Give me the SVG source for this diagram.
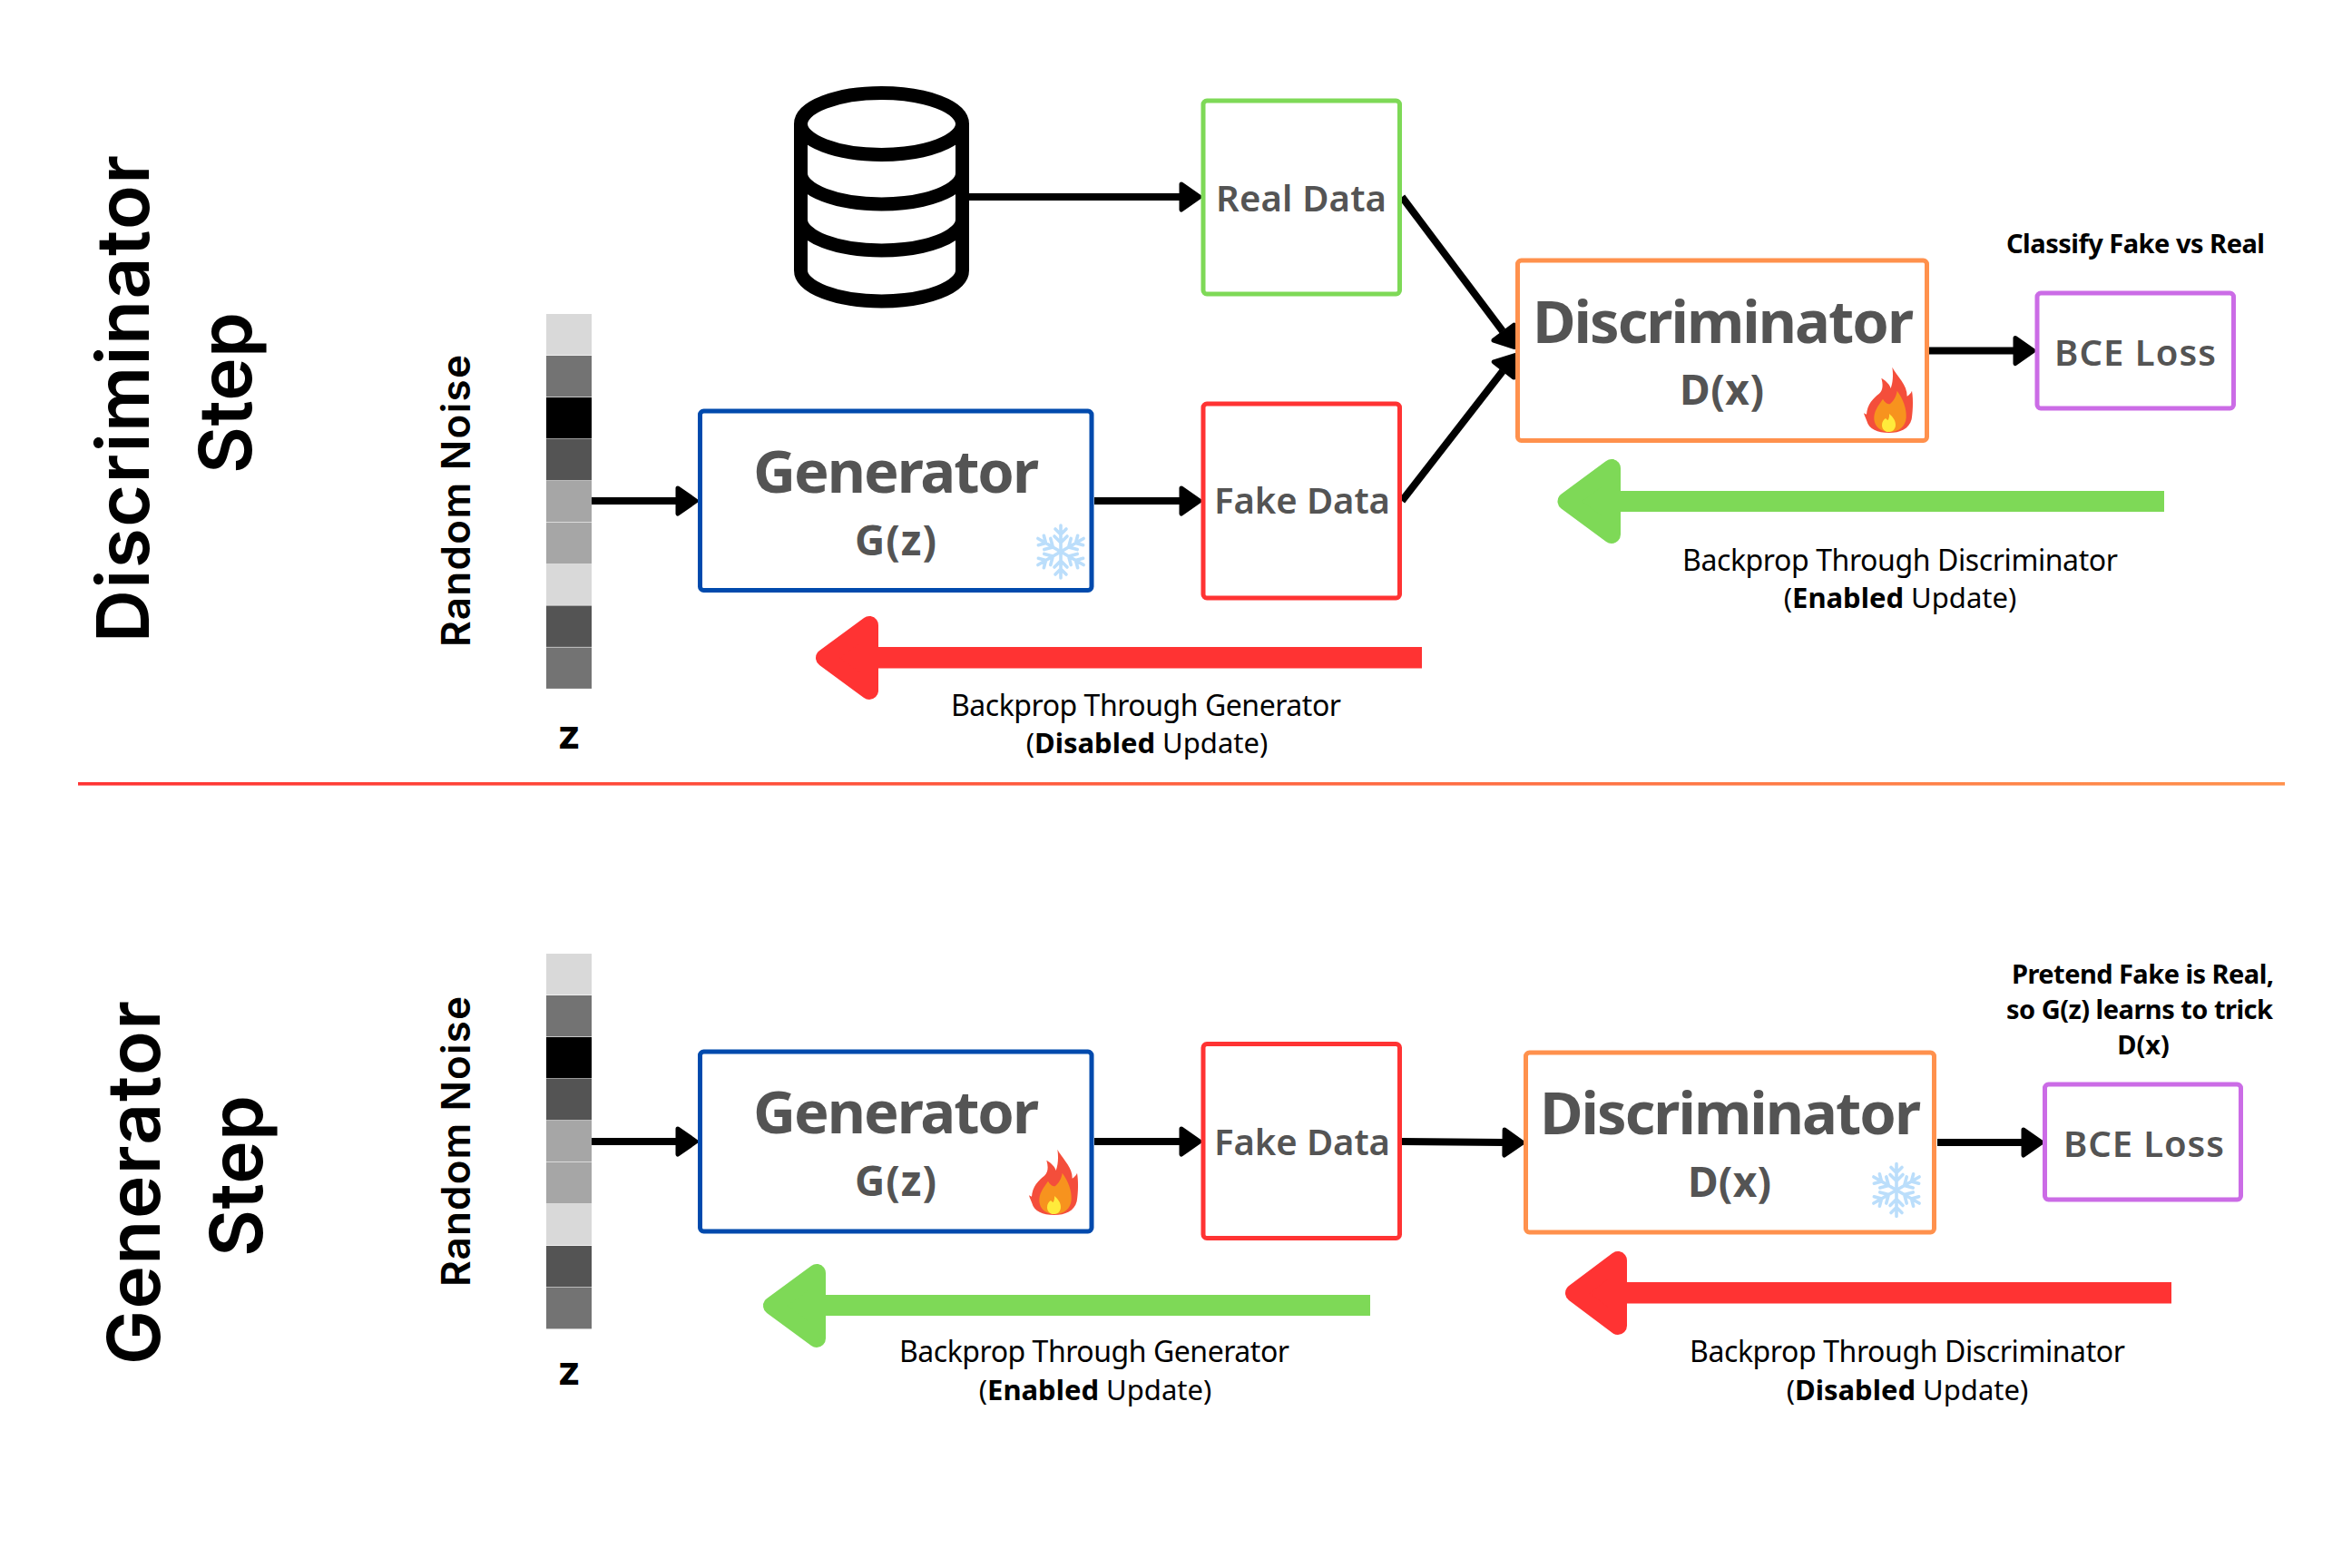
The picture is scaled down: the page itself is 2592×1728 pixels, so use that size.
<svg xmlns="http://www.w3.org/2000/svg" width="2592" height="1728" viewBox="0 0 2592 1728">
<style>
text{font-family:"Noto Sans","Open Sans",sans-serif;fill:#000}
.title{font-family:Inter,"Liberation Sans",sans-serif;font-weight:600;font-size:80px}
.rn{font-family:Inter,"Liberation Sans",sans-serif;font-weight:600;font-size:44px}
.z{font-family:Inter,"Liberation Sans",sans-serif;font-weight:700;font-size:44px}
.big{font-size:65px;font-weight:700;fill:#545454}
.sub{font-size:46px;font-weight:700;fill:#545454}
.lab{font-size:40px;font-weight:600;fill:#545454}
.note{font-size:29px;font-weight:700}
.bp{font-size:32px;font-weight:400}
.bp2{font-size:31px;font-weight:400}
.bp2 tspan{font-weight:700}
.box{fill:#fff;stroke-width:5}
.blue{stroke:#004aad}.red{stroke:#ff3333}.green{stroke:#7ed957}.orange{stroke:#ff914d}.purple{stroke:#cb6ce6}
.link{stroke:#000;stroke-width:8;fill:none;marker-end:url(#tip)}
.db{fill:none;stroke:#000;stroke-width:15}
.ag{fill:#7ed957;stroke:#7ed957}.ar{fill:#ff3333;stroke:#ff3333}
.ahead{stroke-width:20;stroke-linejoin:round}
.flake{stroke:#bbdefb;stroke-width:3.6;fill:none;stroke-linecap:round}
</style>
<defs>
<marker id="tip" markerUnits="userSpaceOnUse" markerWidth="40" markerHeight="44" refX="2" refY="22" orient="auto" viewBox="0 0 40 44"><path d="M4 8 L24 22 L4 36 Z" fill="#000" stroke="#000" stroke-width="5" stroke-linejoin="round"/></marker>
<linearGradient id="sep" x1="0" x2="1" y1="0" y2="0"><stop offset="0" stop-color="#ff3333"/><stop offset="1" stop-color="#ff914d"/></linearGradient>
<g id="arm"><path d="M0 0V-29M0 -10L-7 -17M0 -10L7 -17M0 -19L-6 -25M0 -19L6 -25"/></g>
<g id="flake" class="flake"><use href="#arm"/><use href="#arm" transform="rotate(60)"/><use href="#arm" transform="rotate(120)"/><use href="#arm" transform="rotate(180)"/><use href="#arm" transform="rotate(240)"/><use href="#arm" transform="rotate(300)"/></g>
<g id="fire" transform="scale(.3333)">
<path fill="#f44e3b" d="M136 14C152 45 186 72 185 110C191 106 198 100 201 92C207 125 203 170 200 186C192 218 162 231 125 231C88 231 58 218 52 192C48 182 44 174 42 166L51 170C53 138 73 116 93 101C106 90 106 70 100 50C117 60 128 72 131 84C138 65 140 40 136 14Z"/>
<path fill="#f7931e" d="M152 92C172 120 184 150 182 181C180 212 156 228 128 228C99 228 78 212 76 186C75 160 88 143 105 119C110 128 118 136 128 136C140 126 150 110 152 92Z"/>
<path fill="#ffeb3b" d="M126 168C139 179 148 192 147 206C146 220 136 228 124 228C111 228 102 217 102 206C102 195 107 187 114 183C118 187 120 189 122 189C125 184 127 176 126 168Z"/>
</g>
</defs>
<rect width="2592" height="1728" fill="#fff"/>

<g id="titles">
<text class="title" transform="translate(164 708) rotate(-90)" textLength="537">Discriminator</text>
<text class="title" transform="translate(277 522) rotate(-90)" textLength="178">Step</text>
<text class="title" transform="translate(176 1504) rotate(-90)" textLength="401">Generator</text>
<text class="title" transform="translate(289 1385) rotate(-90)" textLength="178">Step</text>
</g>

<rect id="separator" x="86" y="862" width="2432" height="3.6" fill="url(#sep)"/>

<g id="connectors">
<line class="link" x1="1068" y1="217" x2="1300" y2="217"/>
<line class="link" x1="1545" y1="217" x2="1656" y2="365"/>
<line class="link" x1="1545" y1="552" x2="1656" y2="409"/>
<line class="link" x1="652" y1="552" x2="745" y2="552"/>
<line class="link" x1="1206" y1="552" x2="1300" y2="552"/>
<line class="link" x1="2126" y1="386.5" x2="2219" y2="386.5"/>
<line class="link" x1="652" y1="1258" x2="745" y2="1258"/>
<line class="link" x1="1206" y1="1258" x2="1300" y2="1258"/>
<line class="link" x1="1545" y1="1258" x2="1656" y2="1259"/>
<line class="link" x1="2135" y1="1259" x2="2228" y2="1259"/>
</g>

<g id="feedback-arrows">
<g id="back-d-enabled" class="ag"><rect x="1780" y="541" width="605" height="23" stroke="none"/><path class="ahead" d="M1726.5 552.5L1776 516V589Z"/></g>
<g id="back-g-disabled" class="ar"><rect x="960" y="713" width="607" height="23.5" stroke="none"/><path class="ahead" d="M909 725L958 689V761Z"/></g>
<g id="back-g-enabled" class="ag"><rect x="905" y="1427" width="605" height="23" stroke="none"/><path class="ahead" d="M851 1439L900 1403V1475Z"/></g>
<g id="back-d-disabled" class="ar"><rect x="1785" y="1413" width="608" height="23.5" stroke="none"/><path class="ahead" d="M1735 1425L1783 1389V1461Z"/></g>
</g>

<g id="noise-top">
<rect x="602" y="346" width="50" height="45.4" fill="#d9d9d9"/><rect x="602" y="392" width="50" height="45.4" fill="#737373"/><rect x="602" y="438" width="50" height="45.4" fill="#000"/><rect x="602" y="484" width="50" height="45.4" fill="#545454"/><rect x="602" y="530" width="50" height="45.4" fill="#a6a6a6"/><rect x="602" y="576" width="50" height="45.4" fill="#a6a6a6"/><rect x="602" y="621.5" width="50" height="45.4" fill="#d9d9d9"/><rect x="602" y="667.5" width="50" height="45.4" fill="#545454"/><rect x="602" y="713.5" width="50" height="45.4" fill="#737373"/>
<text class="rn" transform="translate(518 713) rotate(-90)" textLength="322">Random Noise</text>
<text class="z" x="627" y="825" text-anchor="middle">z</text>
</g>

<g id="noise-bottom">
<rect x="602" y="1051" width="50" height="45.4" fill="#d9d9d9"/><rect x="602" y="1097" width="50" height="45.4" fill="#737373"/><rect x="602" y="1143" width="50" height="45.4" fill="#000"/><rect x="602" y="1189" width="50" height="45.4" fill="#545454"/><rect x="602" y="1235" width="50" height="45.4" fill="#a6a6a6"/><rect x="602" y="1281" width="50" height="45.4" fill="#a6a6a6"/><rect x="602" y="1327" width="50" height="45.4" fill="#d9d9d9"/><rect x="602" y="1373" width="50" height="45.4" fill="#545454"/><rect x="602" y="1419" width="50" height="45.4" fill="#737373"/>
<text class="rn" transform="translate(518 1418) rotate(-90)" textLength="320">Random Noise</text>
<text class="z" x="627" y="1526" text-anchor="middle">z</text>
</g>

<g id="database">
<ellipse class="db" cx="971.5" cy="136.5" rx="89" ry="34"/>
<path class="db" d="M882.5 136.5V298A89 34 0 0 0 1060.5 298V136.5M882.5 191A89 34 0 0 0 1060.5 191M882.5 242A89 34 0 0 0 1060.5 242"/>
</g>

<g id="real-data"><rect class="box green" x="1326" y="111" width="216.5" height="213" rx="4"/><text class="lab" x="1340" y="233" textLength="188">Real Data</text></g>

<g id="fake-data-top"><rect class="box red" x="1326" y="445" width="216.5" height="214" rx="4"/><text class="lab" x="1338" y="566" textLength="194">Fake Data</text></g>

<g id="generator-top"><rect class="box blue" x="771.5" y="453" width="431.5" height="197.5" rx="4"/><text class="big" x="830" y="543" textLength="315">Generator</text><text class="sub" x="942" y="612" textLength="90">G(z)</text><use href="#flake" x="1169" y="608"/></g>

<g id="discriminator-top"><rect class="box orange" x="1672.5" y="287" width="451" height="198.5" rx="4"/><text class="big" x="1689" y="378" textLength="420">Discriminator</text><text class="sub" x="1851" y="446" textLength="93">D(x)</text><use href="#fire" transform="translate(2040 400)"/></g>

<g id="bce-top"><rect class="box purple" x="2245" y="323" width="216.5" height="127" rx="4"/><text class="lab" x="2264" y="403" textLength="178">BCE Loss</text></g>
<text class="note" x="2211" y="279" textLength="285">Classify Fake vs Real</text>

<text class="bp" x="1854" y="629" textLength="480">Backprop Through Discriminator</text>
<text class="bp2" x="2094" y="670" text-anchor="middle">(<tspan>Enabled</tspan> Update)</text>
<text class="bp" x="1048" y="789" textLength="430">Backprop Through Generator</text>
<text class="bp2" x="1264" y="830" text-anchor="middle">(<tspan>Disabled</tspan> Update)</text>

<g id="generator-bottom"><rect class="box blue" x="771.5" y="1159" width="431.5" height="198" rx="4"/><text class="big" x="830" y="1249" textLength="315">Generator</text><text class="sub" x="942" y="1318" textLength="90">G(z)</text><use href="#fire" transform="translate(1120 1262)"/></g>

<g id="fake-data-bottom"><rect class="box red" x="1326" y="1150.5" width="216.5" height="214" rx="4"/><text class="lab" x="1338" y="1273" textLength="194">Fake Data</text></g>

<g id="discriminator-bottom"><rect class="box orange" x="1681.5" y="1160" width="450" height="198" rx="4"/><text class="big" x="1697" y="1250" textLength="420">Discriminator</text><text class="sub" x="1860" y="1319" textLength="92">D(x)</text><use href="#flake" x="2090" y="1311.5"/></g>

<g id="bce-bottom"><rect class="box purple" x="2253.5" y="1195" width="216" height="127" rx="4"/><text class="lab" x="2274" y="1275" textLength="177">BCE Loss</text></g>
<text class="note" x="2217" y="1084" textLength="289">Pretend Fake is Real,</text>
<text class="note" x="2211" y="1122.7" textLength="294">so G(z) learns to trick</text>
<text class="note" x="2362" y="1161.7" text-anchor="middle">D(x)</text>

<text class="bp" x="991" y="1500.5" textLength="430">Backprop Through Generator</text>
<text class="bp2" x="1207" y="1543" text-anchor="middle">(<tspan>Enabled</tspan> Update)</text>
<text class="bp" x="1862" y="1500.5" textLength="480">Backprop Through Discriminator</text>
<text class="bp2" x="2102" y="1543" text-anchor="middle">(<tspan>Disabled</tspan> Update)</text>
</svg>
